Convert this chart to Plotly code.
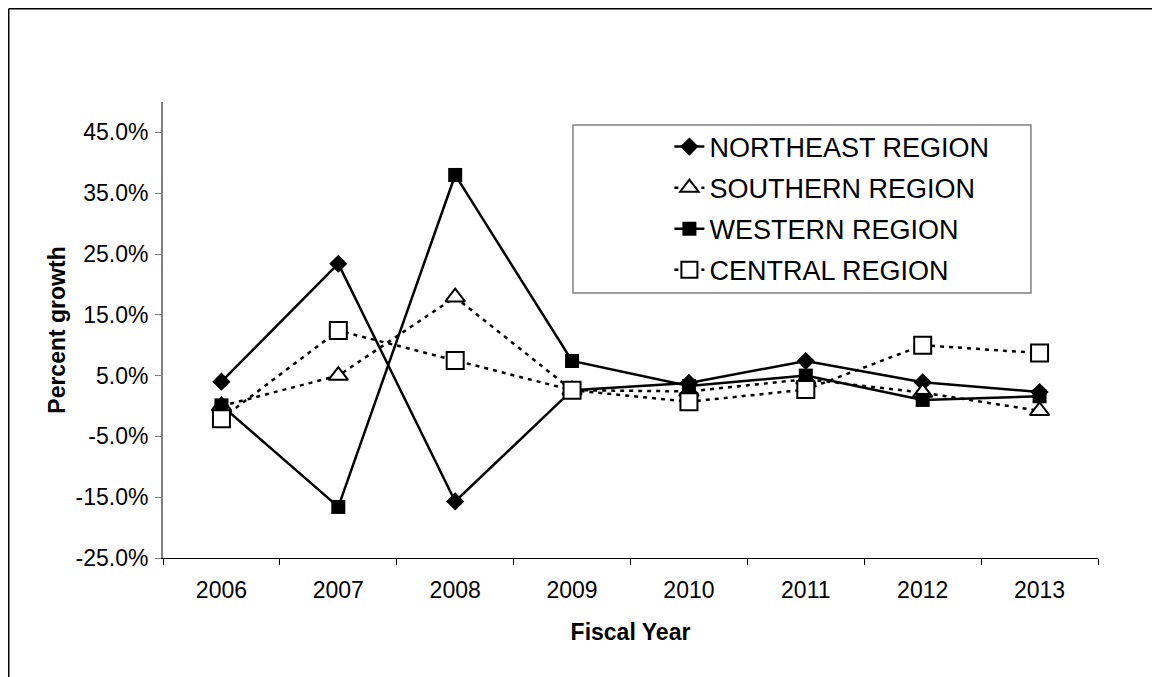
import plotly.graph_objects as go

# fiscal years on the category axis
years = ["2006", "2007", "2008", "2009", "2010", "2011", "2012", "2013"]

# percent growth by region
northeast = [4.0, 23.4, -15.7, 2.6, 3.8, 7.4, 3.9, 2.3]
southern = [0.0, 5.0, 17.9, 2.6, 2.4, 4.4, 2.2, -0.8]
western = [0.1, -16.6, 38.0, 7.4, 3.3, 5.0, 1.0, 1.6]
central = [-2.1, 12.4, 7.5, 2.6, 0.7, 2.7, 10.0, 8.7]

# y tick labels
y_ticks = [-25, -15, -5, 5, 15, 25, 35, 45]
y_tick_text = ["-25.0%", "-15.0%", "-5.0%", "5.0%", "15.0%", "25.0%", "35.0%", "45.0%"]

FONT = "Liberation Sans, Arial, sans-serif"
DASH = "4px,5px"

series = [
    ("NORTHEAST REGION", northeast, "solid", dict(symbol="diamond", size=14, color="black")),
    ("SOUTHERN REGION", southern, DASH,
     dict(symbol="triangle-up", size=17, color="white", line=dict(width=2, color="black"))),
    ("WESTERN REGION", western, "solid", dict(symbol="square", size=14, color="black")),
    ("CENTRAL REGION", central, DASH,
     dict(symbol="square", size=17, color="white", line=dict(width=2, color="black"))),
]

fig = go.Figure()
for name, values, dash, marker in series:
    fig.add_trace(go.Scatter(
        x=years, y=values, name=name, legendgroup=name,
        mode="lines+markers",
        line=dict(color="black", width=2.5, dash=dash),
        marker=marker,
    ))

fig.update_layout(
    width=1160, height=677,
    margin=dict(l=155, r=70, t=94, b=127),
    paper_bgcolor="white", plot_bgcolor="white",
    font=dict(family=FONT, color="black", size=23),
    showlegend=True,
    legend=dict(
        x=0.5416, y=0.955, xanchor="left", yanchor="top",
        font=dict(family=FONT, size=27, color="black"),
        bgcolor="rgba(0,0,0,0)", borderwidth=0,
        traceorder="grouped", tracegroupgap=3,
    ),
)

fig.update_xaxes(
    type="category", range=[-0.5, 7.5],
    showline=True, linecolor="black", linewidth=1,
    ticks="outside", tickson="boundaries", ticklen=6, tickcolor="black",
    showgrid=False, zeroline=False,
    tickfont=dict(size=23), ticklabelstandoff=11,
    title=dict(text="<b>Fiscal Year</b>", font=dict(size=23), standoff=22),
)
fig.update_yaxes(
    range=[-25, 50],
    tickvals=y_ticks, ticktext=y_tick_text,
    showline=True, linecolor="#808080", linewidth=2,
    ticks="outside", ticklen=6, tickcolor="#808080",
    showgrid=False, zeroline=False,
    tickfont=dict(size=23), ticklabelstandoff=2,
    title=dict(text="<b>Percent growth</b>", font=dict(size=23), standoff=3),
)

# legend frame
fig.add_shape(type="rect", xref="paper", yref="paper",
              x0=0.4385, x1=0.9283, y0=0.5811, y1=0.9496,
              line=dict(color="#808080", width=1.5))
# outer chart border: top and left edges only
fig.add_shape(type="line", xref="paper", yref="paper",
              x0=-0.165, x1=1.2, y0=1.2045, y1=1.2045,
              line=dict(color="black", width=1.5))
fig.add_shape(type="line", xref="paper", yref="paper",
              x0=-0.165, x1=-0.165, y0=-0.5, y1=1.2045,
              line=dict(color="black", width=1.5))

fig.write_html("out.html")
